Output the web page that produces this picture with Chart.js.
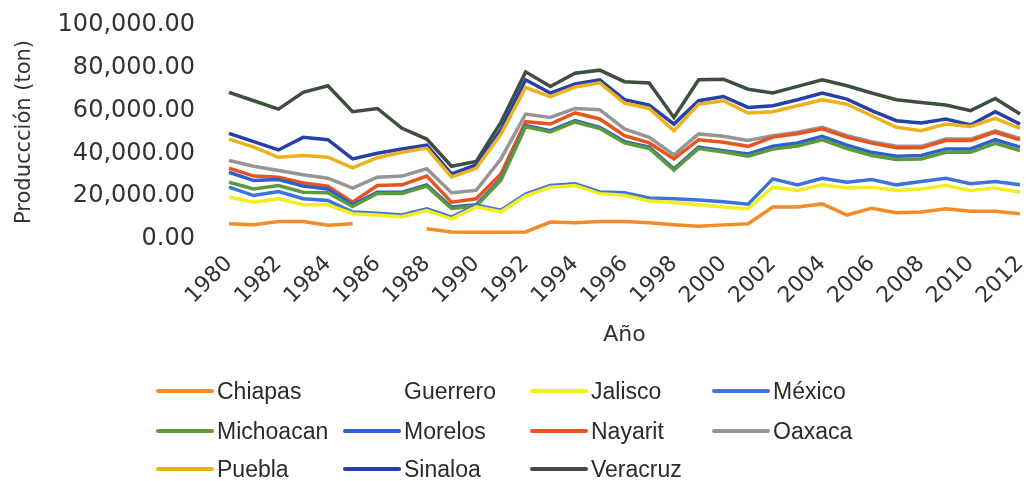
<!DOCTYPE html>
<html>
<head>
<meta charset="utf-8">
<script src="https://cdn.jsdelivr.net/npm/chart.js@4.4.1/dist/chart.umd.min.js"></script>
<style>
  html, body { margin: 0; padding: 0; background: #fff; }
  #wrap { position: relative; width: 1026px; height: 481px; overflow: hidden; }
  #legend { position: absolute; left: 0; top: 0; width: 1026px; height: 481px; pointer-events: none;
            font-family: "Liberation Sans", Arial, sans-serif; font-size: 23px; color: #2b2b2b; }
  .lg-item { position: absolute; height: 26px; display: flex; align-items: center; white-space: nowrap; }
  .lg-line { width: 58px; height: 4px; margin-right: 3px; border-radius: 2px; }
</style>
</head>
<body>
<div id="wrap">
  <canvas id="chart" width="1026" height="481"></canvas>
  <div id="legend"></div>
</div>
<script>
// ================== Data (ton) ==================
const years = ['1980','1981','1982','1983','1984','1985','1986','1987','1988','1989','1990',
  '1991','1992','1993','1994','1995','1996','1997','1998','1999','2000','2001','2002','2003',
  '2004','2005','2006','2007','2008','2009','2010','2011','2012'];
const xTickLabels = ['1980','1982','1984','1986','1988','1990','1992','1994','1996','1998',
  '2000','2002','2004','2006','2008','2010','2012'];
const yTicks = [0, 20000, 40000, 60000, 80000, 100000];

const chiapas = [7100, 6700, 8200, 8200, 6400, 7100, null, null, 4800, 3300, 3100, 3100, 3300,
  7900, 7600, 8200, 8200, 7600, 6700, 6000, 6600, 7100, 14900, 15000, 16400, 11200, 14400,
  12300, 12600, 14100, 13000, 13000, 11800];
const guerrero = years.map(() => null); // sin línea visible
const jalisco = [19600, 17200, 18800, 16000, 16000, 11800, 11200, 10400, 13300, 9400, 15000,
  12700, 20200, 24200, 25000, 21200, 20400, 17800, 17000, 16000, 14900, 14100, 24200, 22700,
  25300, 23800, 24200, 22700, 23400, 25000, 22700, 23800, 21900];
const mexico = [24200, 20300, 22200, 18800, 18000, 12600, 12000, 11200, 14100, 10200, 15800,
  13500, 21000, 25000, 25800, 22000, 21600, 19200, 18800, 18200, 17400, 16300, 28100, 25300,
  28400, 26500, 27800, 25300, 26900, 28400, 25800, 26900, 25300];
const michoacan = [26500, 23400, 25000, 21900, 21600, 15200, 21300, 21300, 24700, 14300, 15400,
  27500, 52400, 50000, 54700, 51600, 44900, 42300, 32200, 42300, 40700, 38700, 42000, 43500,
  46300, 42300, 39000, 37200, 37400, 40500, 40500, 44700, 41300];
const morelos = [31200, 27300, 27800, 24700, 23400, 16000, 21900, 21900, 25300, 14900, 16000,
  28100, 53000, 50600, 55300, 52200, 45500, 42900, 32800, 42900, 41300, 39700, 43300, 44900,
  48000, 43900, 40500, 38700, 39000, 42100, 42100, 46400, 42900];
const nayarit = [33100, 29400, 28900, 26200, 24700, 17200, 25000, 25300, 29400, 17200, 18800,
  30400, 54800, 53700, 58900, 56100, 48300, 44900, 37400, 46400, 45200, 43300, 47600, 49200,
  51500, 47600, 44800, 42600, 42600, 46000, 46000, 49900, 46300];
const oaxaca = [36700, 34000, 32000, 30000, 28400, 23800, 28900, 29400, 32800, 21600, 22700,
  37400, 58400, 56800, 61000, 60400, 51400, 47500, 39300, 49100, 48000, 46000, 48300, 49900,
  52200, 48300, 45500, 43300, 43300, 46700, 46700, 50600, 47000];
const puebla = [46700, 42900, 38200, 39000, 38200, 33200, 38000, 40500, 42500, 29000, 33000,
  49000, 70800, 66500, 71000, 73000, 63500, 61000, 50600, 63000, 64600, 58900, 59500, 62300,
  65100, 63000, 57600, 52200, 50600, 53700, 52600, 56400, 51700];
const sinaloa = [49400, 45500, 41600, 47500, 46400, 37400, 40100, 42100, 43900, 30400, 34600,
  51000, 74400, 68200, 72400, 74400, 65100, 62600, 53700, 64600, 66600, 61500, 62300, 65100,
  68200, 65400, 60000, 55300, 54200, 56100, 53300, 59500, 53700];
const veracruz = [68500, 64600, 60700, 68500, 71600, 59500, 61000, 51700, 46700, 34000, 36200,
  54500, 78100, 71300, 77500, 78900, 73500, 72900, 56800, 74400, 74700, 70000, 68200, 71300,
  74400, 71600, 68200, 65100, 63800, 62600, 60000, 65700, 58400];

const series = [
  { label: 'Chiapas',   data: chiapas,   color: '#F28C28' },
  { label: 'Guerrero',  data: guerrero,  color: 'rgba(0,0,0,0)' },
  { label: 'Jalisco',   data: jalisco,   color: '#F2EE1C' },
  { label: 'México',    data: mexico,    color: '#3C74DC' },
  { label: 'Michoacan', data: michoacan, color: '#5B9B3A' },
  { label: 'Morelos',   data: morelos,   color: '#2F5FCF' },
  { label: 'Nayarit',   data: nayarit,   color: '#E9531E' },
  { label: 'Oaxaca',    data: oaxaca,    color: '#959595' },
  { label: 'Puebla',    data: puebla,    color: '#EDB21A' },
  { label: 'Sinaloa',   data: sinaloa,   color: '#2640A8' },
  { label: 'Veracruz',  data: veracruz,  color: '#3F4F3F' }
];

// ================== Chart ==================
const textColor = '#333333';

const chart = new Chart(document.getElementById('chart'), {
  type: 'line',
  data: {
    labels: years,
    datasets: series.map(s => ({
      label: s.label,
      data: s.data,
      borderColor: s.color,
      backgroundColor: s.color,
      borderWidth: 3.5,
      pointRadius: 0,
      tension: 0,
      spanGaps: false
    }))
  },
  options: {
    responsive: false,
    animation: false,
    devicePixelRatio: 1,
    layout: { padding: { top: 25, right: 6, bottom: 133, left: 0 } },
    plugins: { legend: { display: false }, tooltip: { enabled: false } },
    scales: {
      x: {
        grid: { display: false, drawTicks: false },
        border: { display: false },
        ticks: {
          autoSkip: false,
          minRotation: 45,
          maxRotation: 45,
          padding: 12,
          color: textColor,
          font: { family: 'DejaVu Sans', size: 22 },
          callback: function (value) {
            const lbl = this.getLabelForValue(value);
            return xTickLabels.includes(lbl) ? lbl : null;
          }
        },
        title: {
          display: true,
          text: 'Año',
          color: textColor,
          font: { family: 'DejaVu Sans', size: 22 },
          padding: 0
        },
        afterFit: scale => {
          scale.height = 109;
          scale.paddingLeft = 0;
          scale.paddingRight = 0;
        }
      },
      y: {
        min: 0,
        max: 100000,
        afterBuildTicks: scale => { scale.ticks = yTicks.map(v => ({ value: v })); },
        grid: { display: false, drawTicks: false },
        border: { display: false },
        ticks: {
          padding: 34,
          color: textColor,
          font: { family: 'DejaVu Sans', size: 24 },
          callback: v => v.toLocaleString('en-US', { minimumFractionDigits: 2, maximumFractionDigits: 2 })
        },
        title: {
          display: true,
          text: 'Produccción (ton)',
          color: textColor,
          font: { family: 'DejaVu Sans', size: 21 },
          padding: { top: 12, bottom: 0 }
        },
        afterFit: scale => {
          scale.width = 229;
          scale.paddingTop = 0;
          scale.paddingBottom = 0;
        }
      }
    }
  }
});

// ================== Legend (4 columnas) ==================
const legendCols = [156, 343, 530, 712];
const legendRows = [391, 431, 469];
const legendBox = document.getElementById('legend');
chart.data.datasets.forEach((ds, i) => {
  const item = document.createElement('div');
  item.className = 'lg-item';
  item.style.left = legendCols[i % 4] + 'px';
  item.style.top = (legendRows[Math.floor(i / 4)] - 13) + 'px';
  item.innerHTML = `<span class="lg-line" style="background:${ds.borderColor}"></span><span>${ds.label}</span>`;
  legendBox.appendChild(item);
});
</script>
</body>
</html>
